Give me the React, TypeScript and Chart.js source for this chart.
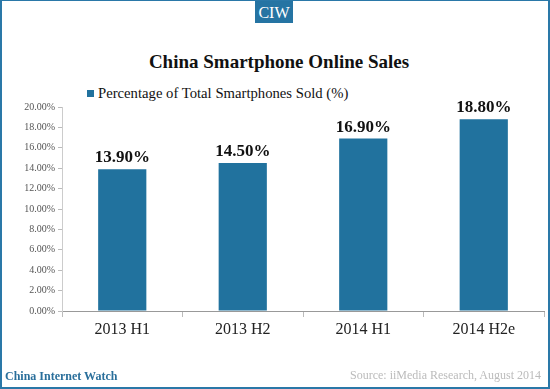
import React, { useEffect, useRef } from "react";
import { Chart, registerables } from "chart.js";

Chart.register(...registerables);

const categories = ["2013 H1", "2013 H2", "2014 H1", "2014 H2e"];
const values = [13.9, 14.5, 16.9, 18.8];
const seriesLabel = "Percentage of Total Smartphones Sold (%)";
const chartTitle = "China Smartphone Online Sales";
const brand = "CIW";
const footerLeft = "China Internet Watch";
const footerRight = "Source: iiMedia Research, August 2014";
const yMin = 0;
const yMax = 20;
const yStep = 2;

const BLUE = "#21729e";
const SERIF = "Georgia, 'Liberation Serif', 'DejaVu Serif', serif";

const dataLabelPlugin = {
  id: "dataLabels",
  afterDatasetsDraw(chart: any) {
    const ctx = chart.ctx;
    const meta = chart.getDatasetMeta(0);
    ctx.save();
    ctx.font = `bold 17px ${SERIF}`;
    ctx.fillStyle = "#111";
    ctx.textAlign = "center";
    ctx.textBaseline = "bottom";
    meta.data.forEach((bar: any, i: number) => {
      ctx.fillText(values[i].toFixed(2) + "%", bar.x, bar.y - 3);
    });
    ctx.restore();
  },
};

export default function App() {
  const canvasRef = useRef<HTMLCanvasElement>(null);

  useEffect(() => {
    const chart = new Chart(canvasRef.current as HTMLCanvasElement, {
      type: "bar",
      data: {
        labels: categories,
        datasets: [
          {
            label: seriesLabel,
            data: values,
            backgroundColor: BLUE,
            categoryPercentage: 1,
            barPercentage: 0.4,
          },
        ],
      },
      options: {
        animation: false,
        responsive: false,
        maintainAspectRatio: false,
        layout: { padding: { top: 107, right: 6, bottom: 48, left: 0 } },
        plugins: {
          legend: { display: false },
          title: { display: false },
          tooltip: { enabled: false },
        },
        scales: {
          x: {
            afterFit: (s: any) => {
              s.height = 30;
            },
            grid: {
              offset: true,
              drawOnChartArea: false,
              tickLength: 6,
              color: "#bbb",
            },
            border: { color: "#999" },
            ticks: {
              color: "#222",
              padding: 3,
              font: { family: SERIF, size: 16 },
            },
          },
          y: {
            min: yMin,
            max: yMax,
            afterFit: (s: any) => {
              s.width = 62;
            },
            grid: {
              drawOnChartArea: false,
              tickLength: 4,
              color: "#bbb",
            },
            border: { color: "#ccc" },
            ticks: {
              stepSize: yStep,
              color: "#555",
              padding: 3,
              font: { family: SERIF, size: 10 },
              callback: (v: any) => Number(v).toFixed(2) + "%",
            },
          },
        },
      },
      plugins: [dataLabelPlugin],
    });
    return () => chart.destroy();
  }, []);

  return (
    <div
      style={{
        position: "fixed",
        left: 0,
        top: 0,
        width: 550,
        height: 389,
        background: "#fff",
        overflow: "hidden",
      }}
    >
      <div
        style={{
          position: "absolute",
          left: 255,
          top: 0,
          width: 38,
          height: 23,
          background: "#2574a3",
          color: "#fff",
          fontFamily: SERIF,
          fontSize: 16,
          lineHeight: "25px",
          textAlign: "center",
        }}
      >
        {brand}
      </div>
      <div
        style={{
          position: "absolute",
          left: 0,
          width: 558,
          top: 50,
          textAlign: "center",
          fontFamily: SERIF,
          fontWeight: "bold",
          fontSize: 19,
          lineHeight: "24px",
          color: "#111",
        }}
      >
        {chartTitle}
      </div>
      <div
        style={{
          position: "absolute",
          left: 87,
          top: 84,
          display: "flex",
          alignItems: "center",
          fontFamily: SERIF,
          fontSize: 14.7,
          lineHeight: "18px",
          color: "#111",
          whiteSpace: "nowrap",
        }}
      >
        <span
          style={{
            display: "inline-block",
            width: 7,
            height: 7,
            background: BLUE,
            marginRight: 4,
          }}
        />
        {seriesLabel}
      </div>
      <canvas
        ref={canvasRef}
        width={550}
        height={389}
        style={{ position: "absolute", left: 0, top: 0, width: 550, height: 389 }}
      />
      <div
        style={{
          position: "absolute",
          left: 5,
          top: 368,
          fontFamily: SERIF,
          fontWeight: "bold",
          fontSize: 12,
          lineHeight: "16px",
          color: "#2a6f9b",
        }}
      >
        {footerLeft}
      </div>
      <div
        style={{
          position: "absolute",
          right: 9,
          top: 368,
          fontFamily: SERIF,
          fontSize: 12,
          lineHeight: "15px",
          color: "#bbb",
          whiteSpace: "nowrap",
        }}
      >
        {footerRight}
      </div>
      <div
        style={{
          position: "absolute",
          left: 0,
          top: 0,
          width: 550,
          height: 389,
          boxSizing: "border-box",
          borderStyle: "solid",
          borderColor: "#2a78a8",
          borderWidth: "1px 2px 2px 2px",
          pointerEvents: "none",
        }}
      />
    </div>
  );
}
